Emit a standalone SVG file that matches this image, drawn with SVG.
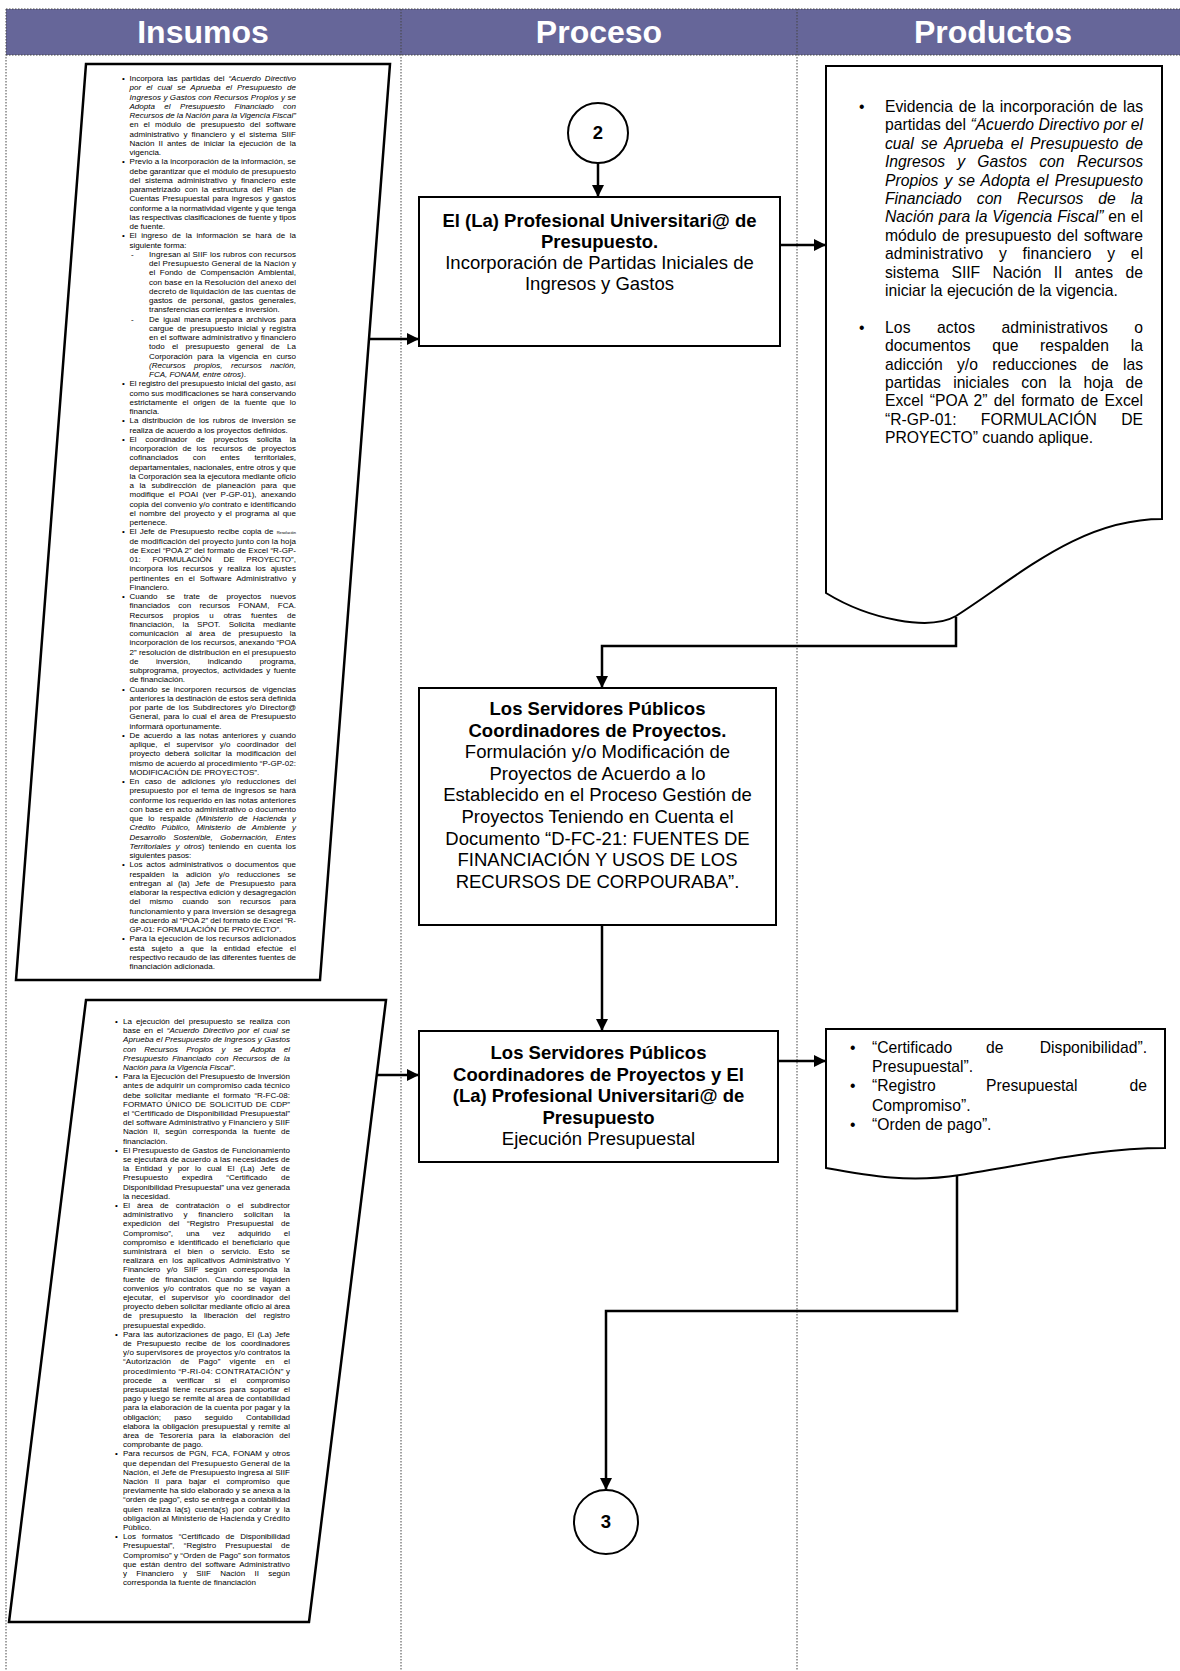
<svg xmlns="http://www.w3.org/2000/svg" width="1180" height="1671" viewBox="0 0 1180 1671">
<style>
.s{font-family:"Liberation Sans",Arial,sans-serif;font-size:8px;fill:#000}
.i{font-style:italic}
.m{font-family:"Liberation Sans",Arial,sans-serif;font-size:18.5px;text-anchor:middle;fill:#000}
.b{font-weight:bold}
.p{font-family:"Liberation Sans",Arial,sans-serif;font-size:15.7px;fill:#000}
.h{font-family:"Liberation Sans",Arial,sans-serif;font-size:32px;font-weight:bold;fill:#fff;text-anchor:middle}
.shape{fill:#fff;stroke:#000;stroke-width:2}
.para{fill:#fff;stroke:#000;stroke-width:2.5}
.conn{fill:none;stroke:#000;stroke-width:2.5}
.dot{stroke:#444;stroke-width:1;stroke-dasharray:1.5 1.5;fill:none}
</style>
<defs>
<marker id="ah" viewBox="0 0 10 10" refX="10" refY="5" markerWidth="14" markerHeight="12" markerUnits="userSpaceOnUse" orient="auto">
<path d="M0,0 L10,5 L0,10 z" fill="#000"/>
</marker>
</defs>
<rect width="1180" height="1671" fill="#fff"/>
<g id="header">
<rect x="6" y="9" width="1174" height="46" fill="#666699"/>
<text class="h" x="203" y="43">Insumos</text>
<text class="h" x="599" y="43">Proceso</text>
<text class="h" x="993" y="43">Productos</text>
</g>
<g id="lanes">
<line class="dot" x1="6" y1="9" x2="1180" y2="9"/>
<line class="dot" x1="6" y1="55" x2="1180" y2="55"/>
<line class="dot" x1="6" y1="9" x2="6" y2="1671"/>
<line class="dot" x1="401" y1="9" x2="401" y2="1671"/>
<line class="dot" x1="797" y1="9" x2="797" y2="1671"/>
</g>
<g id="insumos1">
<path class="para" d="M86,64 L390,64 L320,980 L16,980 Z"/>
<g class="s">
<text x="122" y="81">•</text><text x="129.5" y="81" word-spacing="1.7" textLength="166.5" lengthAdjust="spacing">Incorpora las partidas del <tspan class="i">“Acuerdo Directivo</tspan></text>
<text class="i" x="129.5" y="90.25" word-spacing="2.8" textLength="166.5" lengthAdjust="spacing">por el cual se Aprueba el Presupuesto de</text>
<text class="i" x="129.5" y="99.5" textLength="166.5" lengthAdjust="spacing">Ingresos y Gastos con Recursos Propios y se</text>
<text class="i" x="129.5" y="108.75" word-spacing="7.3" textLength="166.5" lengthAdjust="spacing">Adopta el Presupuesto Financiado con</text>
<text class="i" x="129.5" y="118" textLength="166.5" lengthAdjust="spacing">Recursos de la Nación para la Vigencia Fiscal”</text>
<text x="129.5" y="127.25" word-spacing="3" textLength="166.5" lengthAdjust="spacing">en el módulo de presupuesto del software</text>
<text x="129.5" y="136.5" word-spacing="1.85" textLength="166.5" lengthAdjust="spacing">administrativo y financiero y el sistema SIIF</text>
<text x="129.5" y="145.75" word-spacing="1.9" textLength="166.5" lengthAdjust="spacing">Nación II antes de iniciar la ejecución de la</text>
<text x="129.5" y="155">vigencia.</text>
<text x="122" y="164.25">•</text><text x="129.5" y="164.25" textLength="166.5" lengthAdjust="spacing">Previo a la incorporación de la información, se</text>
<text x="129.5" y="173.5" textLength="166.5" lengthAdjust="spacing">debe garantizar que el módulo de presupuesto</text>
<text x="129.5" y="182.75" word-spacing="2.5" textLength="166.5" lengthAdjust="spacing">del sistema administrativo y financiero este</text>
<text x="129.5" y="192" word-spacing="2" textLength="166.5" lengthAdjust="spacing">parametrizado con la estructura del Plan de</text>
<text x="129.5" y="201.25" word-spacing="1" textLength="166.5" lengthAdjust="spacing">Cuentas Presupuestal para ingresos y gastos</text>
<text x="129.5" y="210.5" textLength="166.5" lengthAdjust="spacing">conforme a la normatividad vigente y que tenga</text>
<text x="129.5" y="219.75" textLength="166.5" lengthAdjust="spacing">las respectivas clasificaciones de fuente y tipos</text>
<text x="129.5" y="229">de fuente.</text>
<text x="122" y="238.25">•</text><text x="129.5" y="238.25" word-spacing="2.4" textLength="166.5" lengthAdjust="spacing">El ingreso de la información se hará de la</text>
<text x="129.5" y="247.5">siguiente forma:</text>
<text x="131" y="256.75">-</text><text x="149" y="256.75" textLength="147" lengthAdjust="spacing">Ingresan al SIIF los rubros con recursos</text>
<text x="149" y="266" textLength="147" lengthAdjust="spacing">del Presupuesto General de la Nación y</text>
<text x="149" y="275.25" word-spacing="2.3" textLength="147" lengthAdjust="spacing">el Fondo de Compensación Ambiental,</text>
<text x="149" y="284.5" textLength="147" lengthAdjust="spacing">con base en la Resolución del anexo del</text>
<text x="149" y="293.75" textLength="147" lengthAdjust="spacing">decreto de liquidación de las cuentas de</text>
<text x="149" y="303" word-spacing="2.95" textLength="147" lengthAdjust="spacing">gastos de personal, gastos generales,</text>
<text x="149" y="312.25">transferencias corrientes e inversión.</text>
<text x="131" y="321.5">-</text><text x="149" y="321.5" word-spacing="1.7" textLength="147" lengthAdjust="spacing">De igual manera prepara archivos para</text>
<text x="149" y="330.75" word-spacing="1.6" textLength="147" lengthAdjust="spacing">cargue de presupuesto inicial y registra</text>
<text x="149" y="340" textLength="147" lengthAdjust="spacing">en el software administrativo y financiero</text>
<text x="149" y="349.25" word-spacing="5.1" textLength="147" lengthAdjust="spacing">todo el presupuesto general de La</text>
<text x="149" y="358.5" word-spacing="2.5" textLength="147" lengthAdjust="spacing">Corporación para la vigencia en curso</text>
<text class="i" x="149" y="367.75" word-spacing="6.3" textLength="147" lengthAdjust="spacing">(Recursos propios, recursos nación,</text>
<text x="149" y="377"><tspan class="i">FCA, FONAM, entre otros)</tspan>.</text>
<text x="122" y="386.25">•</text><text x="129.5" y="386.25" textLength="166.5" lengthAdjust="spacing">El registro del presupuesto inicial del gasto, así</text>
<text x="129.5" y="395.5" textLength="166.5" lengthAdjust="spacing">como sus modificaciones se hará conservando</text>
<text x="129.5" y="404.75" word-spacing="2.5" textLength="166.5" lengthAdjust="spacing">estrictamente el origen de la fuente que lo</text>
<text x="129.5" y="414">financia.</text>
<text x="122" y="423.25">•</text><text x="129.5" y="423.25" word-spacing="1.5" textLength="166.5" lengthAdjust="spacing">La distribución de los rubros de inversión se</text>
<text x="129.5" y="432.5">realiza de acuerdo a los proyectos definidos.</text>
<text x="122" y="441.75">•</text><text x="129.5" y="441.75" word-spacing="6.4" textLength="166.5" lengthAdjust="spacing">El coordinador de proyectos solicita la</text>
<text x="129.5" y="451" word-spacing="2.8" textLength="166.5" lengthAdjust="spacing">incorporación de los recursos de proyectos</text>
<text x="129.5" y="460.25" word-spacing="12.4" textLength="166.5" lengthAdjust="spacing">cofinanciados con entes territoriales,</text>
<text x="129.5" y="469.5" textLength="166.5" lengthAdjust="spacing">departamentales, nacionales, entre otros y que</text>
<text x="129.5" y="478.75" textLength="166.5" lengthAdjust="spacing">la Corporación sea la ejecutora mediante oficio</text>
<text x="129.5" y="488" word-spacing="3.4" textLength="166.5" lengthAdjust="spacing">a la subdirección de planeación para que</text>
<text x="129.5" y="497.25" word-spacing="2.1" textLength="166.5" lengthAdjust="spacing">modifique el POAI (ver P-GP-01), anexando</text>
<text x="129.5" y="506.5" textLength="166.5" lengthAdjust="spacing">copia del convenio y/o contrato e identificando</text>
<text x="129.5" y="515.75" word-spacing="1.25" textLength="166.5" lengthAdjust="spacing">el nombre del proyecto y el programa al que</text>
<text x="129.5" y="525">pertenece.</text>
<text x="122" y="534.25">•</text><text x="129.5" y="534.25" word-spacing="1.1" textLength="166.5" lengthAdjust="spacing">El Jefe de Presupuesto recibe copia de <tspan font-size="4">Resolución</tspan></text>
<text x="129.5" y="543.5" textLength="166.5" lengthAdjust="spacing">de modificación del proyecto junto con la hoja</text>
<text x="129.5" y="552.75" textLength="166.5" lengthAdjust="spacing">de Excel “POA 2” del formato de Excel “R-GP-</text>
<text x="129.5" y="562" word-spacing="9.6" textLength="166.5" lengthAdjust="spacing">01: FORMULACIÓN DE PROYECTO”,</text>
<text x="129.5" y="571.25" word-spacing="2.6" textLength="166.5" lengthAdjust="spacing">incorpora los recursos y realiza los ajustes</text>
<text x="129.5" y="580.5" word-spacing="2.66" textLength="166.5" lengthAdjust="spacing">pertinentes en el Software Administrativo y</text>
<text x="129.5" y="589.75">Financiero.</text>
<text x="122" y="599">•</text><text x="129.5" y="599" word-spacing="6.7" textLength="166.5" lengthAdjust="spacing">Cuando se trate de proyectos nuevos</text>
<text x="129.5" y="608.25" word-spacing="6" textLength="166.5" lengthAdjust="spacing">financiados con recursos FONAM, FCA.</text>
<text x="129.5" y="617.5" word-spacing="7.6" textLength="166.5" lengthAdjust="spacing">Recursos propios u otras fuentes de</text>
<text x="129.5" y="626.75" word-spacing="6" textLength="166.5" lengthAdjust="spacing">financiación, la SPOT. Solicita mediante</text>
<text x="129.5" y="636" word-spacing="5" textLength="166.5" lengthAdjust="spacing">comunicación al área de presupuesto la</text>
<text x="129.5" y="645.25" textLength="166.5" lengthAdjust="spacing">incorporación de los recursos, anexando “POA</text>
<text x="129.5" y="654.5" textLength="166.5" lengthAdjust="spacing">2” resolución de distribución en el presupuesto</text>
<text x="129.5" y="663.75" word-spacing="15.3" textLength="166.5" lengthAdjust="spacing">de inversión, indicando programa,</text>
<text x="129.5" y="673" word-spacing="1.25" textLength="166.5" lengthAdjust="spacing">subprograma, proyectos, actividades y fuente</text>
<text x="129.5" y="682.25">de financiación.</text>
<text x="122" y="691.5">•</text><text x="129.5" y="691.5" word-spacing="1.6" textLength="166.5" lengthAdjust="spacing">Cuando se incorporen recursos de vigencias</text>
<text x="129.5" y="700.75" textLength="166.5" lengthAdjust="spacing">anteriores la destinación de estos será definida</text>
<text x="129.5" y="710" word-spacing="1.3" textLength="166.5" lengthAdjust="spacing">por parte de los Subdirectores y/o Director@</text>
<text x="129.5" y="719.25" word-spacing="1" textLength="166.5" lengthAdjust="spacing">General, para lo cual el área de Presupuesto</text>
<text x="129.5" y="728.5">informará oportunamente.</text>
<text x="122" y="737.75">•</text><text x="129.5" y="737.75" word-spacing="1.7" textLength="166.5" lengthAdjust="spacing">De acuerdo a las notas anteriores y cuando</text>
<text x="129.5" y="747" word-spacing="4.1" textLength="166.5" lengthAdjust="spacing">aplique, el supervisor y/o coordinador del</text>
<text x="129.5" y="756.25" word-spacing="2.3" textLength="166.5" lengthAdjust="spacing">proyecto deberá solicitar la modificación del</text>
<text x="129.5" y="765.5" textLength="166.5" lengthAdjust="spacing">mismo de acuerdo al procedimiento “P-GP-02:</text>
<text x="129.5" y="774.75">MODIFICACIÓN DE PROYECTOS”.</text>
<text x="122" y="784">•</text><text x="129.5" y="784" word-spacing="3.2" textLength="166.5" lengthAdjust="spacing">En caso de adiciones y/o reducciones del</text>
<text x="129.5" y="793.25" word-spacing="1.1" textLength="166.5" lengthAdjust="spacing">presupuesto por el tema de ingresos se hará</text>
<text x="129.5" y="802.5" textLength="166.5" lengthAdjust="spacing">conforme los requerido en las notas anteriores</text>
<text x="129.5" y="811.75" textLength="166.5" lengthAdjust="spacing">con base en acto administrativo o documento</text>
<text x="129.5" y="821" word-spacing="3.2" textLength="166.5" lengthAdjust="spacing">que lo respalde <tspan class="i">(Ministerio de Hacienda y</tspan></text>
<text class="i" x="129.5" y="830.25" word-spacing="4" textLength="166.5" lengthAdjust="spacing">Crédito Público, Ministerio de Ambiente y</text>
<text class="i" x="129.5" y="839.5" word-spacing="5.3" textLength="166.5" lengthAdjust="spacing">Desarrollo Sostenible, Gobernación, Entes</text>
<text x="129.5" y="848.75" word-spacing="2.2" textLength="166.5" lengthAdjust="spacing"><tspan class="i">Territoriales y otros</tspan>) teniendo en cuenta los</text>
<text x="129.5" y="858">siguientes pasos:</text>
<text x="122" y="867.25">•</text><text x="129.5" y="867.25" word-spacing="1.4" textLength="166.5" lengthAdjust="spacing">Los actos administrativos o documentos que</text>
<text x="129.5" y="876.5" word-spacing="5.3" textLength="166.5" lengthAdjust="spacing">respalden la adición y/o reducciones se</text>
<text x="129.5" y="885.75" word-spacing="3.15" textLength="166.5" lengthAdjust="spacing">entregan al (la) Jefe de Presupuesto para</text>
<text x="129.5" y="895" textLength="166.5" lengthAdjust="spacing">elaborar la respectiva edición y desagregación</text>
<text x="129.5" y="904.25" word-spacing="7.1" textLength="166.5" lengthAdjust="spacing">del mismo cuando son recursos para</text>
<text x="129.5" y="913.5" textLength="166.5" lengthAdjust="spacing">funcionamiento y para inversión se desagrega</text>
<text x="129.5" y="922.75" textLength="166.5" lengthAdjust="spacing">de acuerdo al “POA 2” del formato de Excel “R-</text>
<text x="129.5" y="932">GP-01: FORMULACIÓN DE PROYECTO”.</text>
<text x="122" y="941.25">•</text><text x="129.5" y="941.25" textLength="166.5" lengthAdjust="spacing">Para la ejecución de los recursos adicionados</text>
<text x="129.5" y="950.5" word-spacing="4.5" textLength="166.5" lengthAdjust="spacing">está sujeto a que la entidad efectúe el</text>
<text x="129.5" y="959.75" textLength="166.5" lengthAdjust="spacing">respectivo recaudo de las diferentes fuentes de</text>
<text x="129.5" y="969">financiación adicionada.</text>
</g>
</g>
<g id="insumos2">
<path class="para" d="M86,1000 L386,1000 L309,1622 L9,1622 Z"/>
<g class="s">
<text x="115" y="1024">•</text><text x="123" y="1024" word-spacing="1.9" textLength="167" lengthAdjust="spacing">La ejecución del presupuesto se realiza con</text>
<text x="123" y="1033.2" word-spacing="1.5" textLength="167" lengthAdjust="spacing">base en el <tspan class="i">“Acuerdo Directivo por el cual se</tspan></text>
<text class="i" x="123" y="1042.4" textLength="167" lengthAdjust="spacing">Aprueba el Presupuesto de Ingresos y Gastos</text>
<text class="i" x="123" y="1051.6" word-spacing="6" textLength="167" lengthAdjust="spacing">con Recursos Propios y se Adopta el</text>
<text class="i" x="123" y="1060.8" word-spacing="2" textLength="167" lengthAdjust="spacing">Presupuesto Financiado con Recursos de la</text>
<text x="123" y="1070"><tspan class="i">Nación para la Vigencia Fiscal”</tspan>.</text>
<text x="115" y="1079.2">•</text><text x="123" y="1079.2" textLength="167" lengthAdjust="spacing">Para la Ejecución del Presupuesto de Inversión</text>
<text x="123" y="1088.4" textLength="167" lengthAdjust="spacing">antes de adquirir un compromiso cada técnico</text>
<text x="123" y="1097.6" word-spacing="1.8" textLength="167" lengthAdjust="spacing">debe solicitar mediante el formato “R-FC-08:</text>
<text x="123" y="1106.8" word-spacing="1.1" textLength="167" lengthAdjust="spacing">FORMATO ÚNICO DE SOLICITUD DE CDP”</text>
<text x="123" y="1116" textLength="167" lengthAdjust="spacing">el “Certificado de Disponibilidad Presupuestal”</text>
<text x="123" y="1125.2" textLength="167" lengthAdjust="spacing">del software Administrativo y Financiero y SIIF</text>
<text x="123" y="1134.4" word-spacing="3.2" textLength="167" lengthAdjust="spacing">Nación II, según corresponda la fuente de</text>
<text x="123" y="1143.6">financiación.</text>
<text x="115" y="1152.8">•</text><text x="123" y="1152.8" textLength="167" lengthAdjust="spacing">El Presupuesto de Gastos de Funcionamiento</text>
<text x="123" y="1162" textLength="167" lengthAdjust="spacing">se ejecutará de acuerdo a las necesidades de</text>
<text x="123" y="1171.2" word-spacing="3.5" textLength="167" lengthAdjust="spacing">la Entidad y por lo cual El (La) Jefe de</text>
<text x="123" y="1180.4" word-spacing="11.7" textLength="167" lengthAdjust="spacing">Presupuesto expedirá “Certificado de</text>
<text x="123" y="1189.6" textLength="167" lengthAdjust="spacing">Disponibilidad Presupuestal” una vez generada</text>
<text x="123" y="1198.8">la necesidad.</text>
<text x="115" y="1208">•</text><text x="123" y="1208" word-spacing="4.7" textLength="167" lengthAdjust="spacing">El área de contratación o el subdirector</text>
<text x="123" y="1217.2" word-spacing="8.35" textLength="167" lengthAdjust="spacing">administrativo y financiero solicitan la</text>
<text x="123" y="1226.4" word-spacing="5.4" textLength="167" lengthAdjust="spacing">expedición del “Registro Presupuestal de</text>
<text x="123" y="1235.6" word-spacing="10.85" textLength="167" lengthAdjust="spacing">Compromiso”, una vez adquirido el</text>
<text x="123" y="1244.8" word-spacing="1.6" textLength="167" lengthAdjust="spacing">compromiso e identificado el beneficiario que</text>
<text x="123" y="1254" word-spacing="5" textLength="167" lengthAdjust="spacing">suministrará el bien o servicio. Esto se</text>
<text x="123" y="1263.2" word-spacing="2.4" textLength="167" lengthAdjust="spacing">realizará en los aplicativos Administrativo Y</text>
<text x="123" y="1272.4" word-spacing="4.2" textLength="167" lengthAdjust="spacing">Financiero y/o SIIF según corresponda la</text>
<text x="123" y="1281.6" word-spacing="3.4" textLength="167" lengthAdjust="spacing">fuente de financiación. Cuando se liquiden</text>
<text x="123" y="1290.8" word-spacing="2.3" textLength="167" lengthAdjust="spacing">convenios y/o contratos que no se vayan a</text>
<text x="123" y="1300" word-spacing="3.7" textLength="167" lengthAdjust="spacing">ejecutar, el supervisor y/o coordinador del</text>
<text x="123" y="1309.2" textLength="167" lengthAdjust="spacing">proyecto deben solicitar mediante oficio al área</text>
<text x="123" y="1318.4" word-spacing="5.3" textLength="167" lengthAdjust="spacing">de presupuesto la liberación del registro</text>
<text x="123" y="1327.6">presupuestal expedido.</text>
<text x="115" y="1336.8">•</text><text x="123" y="1336.8" word-spacing="1.1" textLength="167" lengthAdjust="spacing">Para las autorizaciones de pago, El (La) Jefe</text>
<text x="123" y="1346" word-spacing="3" textLength="167" lengthAdjust="spacing">de Presupuesto recibe de los coordinadores</text>
<text x="123" y="1355.2" textLength="167" lengthAdjust="spacing">y/o supervisores de proyectos y/o contratos la</text>
<text x="123" y="1364.4" word-spacing="6.9" textLength="167" lengthAdjust="spacing">“Autorización de Pago” vigente en el</text>
<text x="123" y="1373.6" textLength="167" lengthAdjust="spacing">procedimiento “P-RI-04: CONTRATACIÓN” y</text>
<text x="123" y="1382.8" word-spacing="7.8" textLength="167" lengthAdjust="spacing">procede a verificar si el compromiso</text>
<text x="123" y="1392" word-spacing="2.1" textLength="167" lengthAdjust="spacing">presupuestal tiene recursos para soportar el</text>
<text x="123" y="1401.2" textLength="167" lengthAdjust="spacing">pago y luego se remite al área de contabilidad</text>
<text x="123" y="1410.4" textLength="167" lengthAdjust="spacing">para la elaboración de la cuenta por pagar y la</text>
<text x="123" y="1419.6" word-spacing="11.2" textLength="167" lengthAdjust="spacing">obligación; paso seguido Contabilidad</text>
<text x="123" y="1428.8" word-spacing="1.2" textLength="167" lengthAdjust="spacing">elabora la obligación presupuestal y remite al</text>
<text x="123" y="1438" word-spacing="3.5" textLength="167" lengthAdjust="spacing">área de Tesorería para la elaboración del</text>
<text x="123" y="1447.2">comprobante de pago.</text>
<text x="115" y="1456.4">•</text><text x="123" y="1456.4" word-spacing="0.9" textLength="167" lengthAdjust="spacing">Para recursos de PGN, FCA, FONAM y otros</text>
<text x="123" y="1465.6" textLength="167" lengthAdjust="spacing">que dependan del Presupuesto General de la</text>
<text x="123" y="1474.8" textLength="167" lengthAdjust="spacing">Nación, el Jefe de Presupuesto ingresa al SIIF</text>
<text x="123" y="1484" word-spacing="4.6" textLength="167" lengthAdjust="spacing">Nación II para bajar el compromiso que</text>
<text x="123" y="1493.2" textLength="167" lengthAdjust="spacing">previamente ha sido elaborado y se anexa a la</text>
<text x="123" y="1502.4" textLength="167" lengthAdjust="spacing">“orden de pago”, esto se entrega a contabilidad</text>
<text x="123" y="1511.6" word-spacing="2.1" textLength="167" lengthAdjust="spacing">quien realiza la(s) cuenta(s) por cobrar y la</text>
<text x="123" y="1520.8" textLength="167" lengthAdjust="spacing">obligación al Ministerio de Hacienda y Crédito</text>
<text x="123" y="1530">Público.</text>
<text x="115" y="1539.2">•</text><text x="123" y="1539.2" word-spacing="3.6" textLength="167" lengthAdjust="spacing">Los formatos “Certificado de Disponibilidad</text>
<text x="123" y="1548.4" word-spacing="6.9" textLength="167" lengthAdjust="spacing">Presupuestal”, “Registro Presupuestal de</text>
<text x="123" y="1557.6" textLength="167" lengthAdjust="spacing">Compromiso” y “Orden de Pago” son formatos</text>
<text x="123" y="1566.8" word-spacing="1.5" textLength="167" lengthAdjust="spacing">que están dentro del software Administrativo</text>
<text x="123" y="1576" word-spacing="7" textLength="167" lengthAdjust="spacing">y Financiero y SIIF Nación II según</text>
<text x="123" y="1585.2">corresponda la fuente de financiación</text>
</g>
</g>
<g id="circle2">
<circle class="shape" cx="598" cy="133" r="30"/>
<text class="m b" x="598" y="139" font-size="17">2</text>
</g>
<g id="box1">
<rect class="shape" x="419" y="197" width="361" height="149"/>
<text class="m b" x="599.5" y="227">El (La) Profesional Universitari@ de</text>
<text class="m b" x="599.5" y="248">Presupuesto.</text>
<text class="m" x="599.5" y="269">Incorporación de Partidas Iniciales de</text>
<text class="m" x="599.5" y="290">Ingresos y Gastos</text>
</g>
<g id="doc1">
<path class="shape" d="M826,66 H1162 V519 C1080,519 1020,575 956,616 C930,631 870,620 826,593 Z"/>
<g class="p">
<text x="859" y="112">•</text><text x="885" y="112" word-spacing="1.3" textLength="258" lengthAdjust="spacing">Evidencia de la incorporación de las</text>
<text x="885" y="130.4" textLength="258" lengthAdjust="spacing">partidas del <tspan class="i">“Acuerdo Directivo por el</tspan></text>
<text class="i" x="885" y="148.8" word-spacing="2.7" textLength="258" lengthAdjust="spacing">cual se Aprueba el Presupuesto de</text>
<text class="i" x="885" y="167.2" word-spacing="7.8" textLength="258" lengthAdjust="spacing">Ingresos y Gastos con Recursos</text>
<text class="i" x="885" y="185.6" word-spacing="1.7" textLength="258" lengthAdjust="spacing">Propios y se Adopta el Presupuesto</text>
<text class="i" x="885" y="204" word-spacing="10.6" textLength="258" lengthAdjust="spacing">Financiado con Recursos de la</text>
<text x="885" y="222.4" word-spacing="0.6" textLength="258" lengthAdjust="spacing"><tspan class="i">Nación para la Vigencia Fiscal”</tspan> en el</text>
<text x="885" y="240.8" word-spacing="1.2" textLength="258" lengthAdjust="spacing">módulo de presupuesto del software</text>
<text x="885" y="259.2" word-spacing="11.1" textLength="258" lengthAdjust="spacing">administrativo y financiero y el</text>
<text x="885" y="277.6" word-spacing="8" textLength="258" lengthAdjust="spacing">sistema SIIF Nación II antes de</text>
<text x="885" y="296">iniciar la ejecución de la vigencia.</text>
<text x="859" y="332.8">•</text><text x="885" y="332.8" word-spacing="21.8" textLength="258" lengthAdjust="spacing">Los actos administrativos o</text>
<text x="885" y="351.2" word-spacing="17.3" textLength="258" lengthAdjust="spacing">documentos que respalden la</text>
<text x="885" y="369.6" word-spacing="9.9" textLength="258" lengthAdjust="spacing">adicción y/o reducciones de las</text>
<text x="885" y="388" word-spacing="8" textLength="258" lengthAdjust="spacing">partidas iniciales con la hoja de</text>
<text x="885" y="406.4" word-spacing="1.9" textLength="258" lengthAdjust="spacing">Excel “POA 2” del formato de Excel</text>
<text x="885" y="424.8" word-spacing="20" textLength="258" lengthAdjust="spacing">“R-GP-01: FORMULACIÓN DE</text>
<text x="885" y="443.2">PROYECTO” cuando aplique.</text>
</g>
</g>
<g id="box2">
<rect class="shape" x="419" y="688" width="357" height="237"/>
<text class="m b" x="597.5" y="715">Los Servidores Públicos</text>
<text class="m b" x="597.5" y="736.6">Coordinadores de Proyectos.</text>
<text class="m" x="597.5" y="758.2">Formulación y/o Modificación de</text>
<text class="m" x="597.5" y="779.8">Proyectos de Acuerdo a lo</text>
<text class="m" x="597.5" y="801.4">Establecido en el Proceso Gestión de</text>
<text class="m" x="597.5" y="823">Proyectos  Teniendo en Cuenta el</text>
<text class="m" x="597.5" y="844.6">Documento “D-FC-21: FUENTES DE</text>
<text class="m" x="597.5" y="866.2">FINANCIACIÓN Y USOS DE LOS</text>
<text class="m" x="597.5" y="887.8">RECURSOS DE CORPOURABA”.</text>
</g>
<g id="box3">
<rect class="shape" x="419" y="1031" width="359" height="131"/>
<text class="m b" x="598.5" y="1059">Los Servidores Públicos</text>
<text class="m b" x="598.5" y="1080.5">Coordinadores de Proyectos y El</text>
<text class="m b" x="598.5" y="1102">(La) Profesional Universitari@ de</text>
<text class="m b" x="598.5" y="1123.5">Presupuesto</text>
<text class="m" x="598.5" y="1145">Ejecución Presupuestal</text>
</g>
<g id="doc2">
<path class="shape" d="M826,1029 H1165 V1148 C1100,1148 1040,1162 960,1175 C910,1183 870,1176 826,1168 Z"/>
<g class="p">
<text x="850" y="1053">•</text><text x="872" y="1053">“Certificado</text><text x="986" y="1053">de</text><text x="1147" y="1053" text-anchor="end">Disponibilidad”.</text>
<text x="872" y="1072">Presupuestal”.</text>
<text x="850" y="1091">•</text><text x="872" y="1091">“Registro</text><text x="986" y="1091">Presupuestal</text><text x="1147" y="1091" text-anchor="end">de</text>
<text x="872" y="1111">Compromiso”.</text>
<text x="850" y="1130">•</text><text x="872" y="1130">“Orden de pago”.</text>
</g>
</g>
<g id="circle3">
<circle class="shape" cx="606" cy="1522" r="32"/>
<text class="m b" x="606" y="1528" font-size="17">3</text>
</g>
<g id="connectors">
<path class="conn" d="M598,163 V197" marker-end="url(#ah)"/>
<path class="conn" d="M369,339 H419" marker-end="url(#ah)"/>
<path class="conn" d="M780,245 H826" marker-end="url(#ah)"/>
<path class="conn" d="M956,617 V646 H602 V688" marker-end="url(#ah)"/>
<path class="conn" d="M602,925 V1031" marker-end="url(#ah)"/>
<path class="conn" d="M377,1075 H419" marker-end="url(#ah)"/>
<path class="conn" d="M778,1061 H826" marker-end="url(#ah)"/>
<path class="conn" d="M957,1176 V1311 H606 V1490" marker-end="url(#ah)"/>
</g>
</svg>
